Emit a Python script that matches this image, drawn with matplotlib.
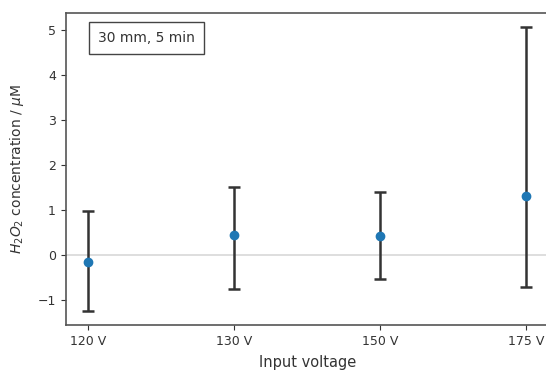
import numpy as np
import matplotlib.pyplot as plt

# values
voltages = ['120 V', '130 V', '150 V', '175 V']
conc = [-0.17, 0.43, 0.41, 1.31]
err_low = [1.08, 1.19, 0.94, 2.02]
err_high = [1.15, 1.08, 0.98, 3.76]

fig = plt.figure(figsize=(5.46, 3.74), dpi=100)
ax = fig.add_axes([0.12, 0.131, 0.886, 0.835])

x = np.arange(len(voltages))
ax.axhline(0, color='#d8d8d8', lw=1.2, zorder=0)
ax.errorbar(x, conc, yerr=[err_low, err_high], fmt='o', color='C0',
            ecolor='#333333', elinewidth=1.8, capsize=4.5, capthick=1.8,
            markersize=6, zorder=3)

ax.set_xticks(x)
ax.set_xticklabels(voltages)
ax.set_xlim(-0.157, 3.157)
ax.set_ylim(-1.565, 5.39)
ax.set_yticks([-1, 0, 1, 2, 3, 4, 5])

ax.set_xlabel('Input voltage', fontsize=10.5, color='#333333', labelpad=5)
ax.set_ylabel(r'$H_2O_2$ concentration / $\mu$M', fontsize=10, color='#333333',
              labelpad=8)
ax.tick_params(labelsize=9, colors='#333333')
for s in ax.spines.values():
    s.set_color('#555555')
    s.set_linewidth(1.2)

ax.text(0.068, 0.918, '30 mm, 5 min', transform=ax.transAxes, fontsize=10,
        color='#333333', va='center', ha='left',
        bbox=dict(boxstyle='square,pad=0.65', fc='white', ec='#444444', lw=1))

fig.savefig('out.png', dpi=100)
